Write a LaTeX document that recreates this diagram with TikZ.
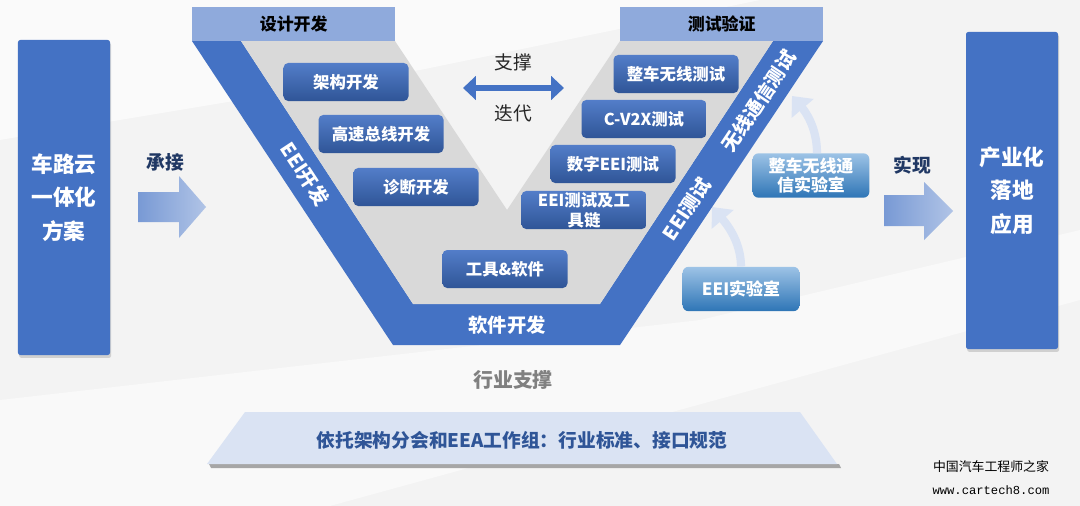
\documentclass[tikz,border=0pt]{standalone}
\usepackage{fontspec}
\setmainfont{Noto Sans CJK SC}
\newfontfamily\wmfont{Liberation Mono}
\usepackage{xcolor}
\usetikzlibrary{arrows.meta, positioning, shadows}
\definecolor{vblue}{HTML}{4472C4}
\definecolor{vdark}{HTML}{2F5597}
\definecolor{vhead}{HTML}{8FAADC}
\definecolor{vgrey}{HTML}{D9D9D9}
\definecolor{vpale}{HTML}{DAE3F3}
\definecolor{labtop}{HTML}{9DC3E6}
\definecolor{labbot}{HTML}{2E75B6}
\definecolor{navy}{HTML}{203864}
\definecolor{bgrey}{HTML}{F3F3F3}
\tikzset{
  column/.style={fill=vblue, rounded corners=2pt, align=center, text=white, minimum width=2.76cm, minimum height=9.45cm, font=\bfseries\fontsize{18.5}{28.5}\selectfont, drop shadow={opacity=0.3, shadow xshift=1pt, shadow yshift=-2.5pt}},
  header/.style={fill=vhead, minimum width=6.09cm, minimum height=1.02cm, inner sep=0pt, font=\bfseries\fontsize{14.5}{17}\selectfont},
  vbox/.style={rounded corners=4pt, top color=vblue!92!white, bottom color=vdark, text=white, align=center, minimum width=3.75cm, minimum height=1.14cm, inner sep=0pt, font=\bfseries\fontsize{14}{17}\selectfont},
  lab/.style={rounded corners=5pt, top color=labtop, bottom color=labbot, text=white, align=center, minimum width=3.5cm, minimum height=1.33cm, inner sep=0pt, font=\bfseries\fontsize{14.5}{17}\selectfont},
  armtext/.style={text=white, inner sep=0pt, font=\bfseries\fontsize{16.5}{19}\selectfont},
  bigarrow/.style={left color=vblue!72!white, right color=vblue!42!white},
  iter/.style={{Triangle[width=20pt,length=11pt]}-{Triangle[width=20pt,length=11pt]}, line width=5.5pt, vblue},
  labarrow/.style={-{Triangle[width=24pt,length=14pt]}, line width=7pt, vpale},
  note/.style={font=\bfseries\fontsize{16}{19}\selectfont, text=navy},
  plain/.style={font=\fontsize{16}{19}\selectfont, text=black!85}
}
\begin{document}
\begin{tikzpicture}[x=0.03cm,y=-0.03cm]
  \useasboundingbox (0,0) rectangle (1080,506);
  % background
  \fill[bgrey] (0,0) rectangle (1080,506);
  \fill[white, opacity=0.6] (0,0) -- (760,0) -- (420,70) -- (0,140) -- cycle;
  \fill[white, opacity=0.5] (0,400) -- (700,320) -- (1080,230) -- (1080,300) -- (330,506) -- (0,506) -- cycle;

  % side columns
  \node[column] (lcol) at (64,197.5) {车路云\\一体化\\方案};
  \node[column, minimum height=9.51cm] (rcol) at (1012,190.5) {产业化\\落地\\应用};

  % big arrows
  \shade[bigarrow] (138,192) -- (179,192) -- (179,176) -- (206,207) -- (179,238) -- (179,222) -- (138,222) -- cycle;
  \node[note] (chengjie) at (165,162) {承接};
  \shade[bigarrow] (884,195) -- (924,195) -- (924,182) -- (953,211) -- (924,240) -- (924,226) -- (884,226) -- cycle;
  \node[note] (shixian) at (912,165) {实现};

  % the V
  \fill[vblue] (192,41) -- (393,345) -- (620,345) -- (823,41) -- (773,41) -- (600,304) -- (413,304) -- (241,41) -- cycle;
  \fill[vgrey] (241,41) -- (413,304) -- (600,304) -- (773,41) -- (620,41) -- (507,210) -- (395,41) -- cycle;
  \node[header, anchor=north west] (dhead) at (192,7) {设计开发};
  \node[header, anchor=north west] (thead) at (620,7) {测试验证};

  \node[armtext, rotate=-56.6] (eeidev) at (305,174) {EEI开发};
  \node[armtext, rotate=56.3] (eeitest) at (687,209) {EEI测试};
  \node[armtext, rotate=56.3] (wltest) at (759,101) {无线通信测试};
  \node[armtext] (swdev) at (507,325) {软件开发};

  \foreach \nm/\x/\y/\txt in {jg/346/82/架构开发, gs/381/134/高速总线开发, zd/416/187/诊断开发,
      gj/505/269/工具\&软件, zcwx/676/74/整车无线测试, cv/644/119/C-V2X测试,
      sz/613/164/数字EEI测试, gl/584/210/{EEI测试及工\\具链}}
    \node[vbox] (\nm) at (\x,\y) {\txt};

  % support / iterate
  \node[plain] (zhicheng) at (513,62) {支撑};
  \coordinate (il) at (463,88);
  \coordinate (ir) at (564,88);
  \draw[iter] (il) -- (ir);
  \node[plain] (diedai) at (513,113) {迭代};

  % labs
  \node[lab] (lab1) at (811,175.5) {整车无线通\\信实验室};
  \node[lab] (lab2) at (741,289) {EEI实验室};
  \coordinate (t1) at (792,96);
  \coordinate (t2) at (712,207);
  \draw[labarrow] ([xshift=0.18cm]lab1.north) .. controls +(0,-27) and +(12,14) .. (t1);
  \draw[labarrow] (lab2.north) .. controls +(0,-27) and +(12,14) .. (t2);

  % industry base
  \node[font=\bfseries\fontsize{17}{20}\selectfont, text=black!50] (hyzc) at (513,380) {行业支撑};
  \fill[black!35] (209,464) -- (839,464) -- (841,468) -- (211,468) -- cycle;
  \fill[vpale] (245,412) -- (800,412) -- (837,464) -- (207,464) -- cycle;
  \node[note, text=vdark] (base) at (522,440) {依托架构分会和EEA工作组：行业标准、接口规范};

  \node[font=\fontsize{11}{13}\selectfont] (wm1) at (991,467) {中国汽车工程师之家};
  \node[font=\wmfont\fontsize{10.4}{12}\selectfont] (wm2) at (991,490) {www.cartech8.com};
\end{tikzpicture}
\end{document}
